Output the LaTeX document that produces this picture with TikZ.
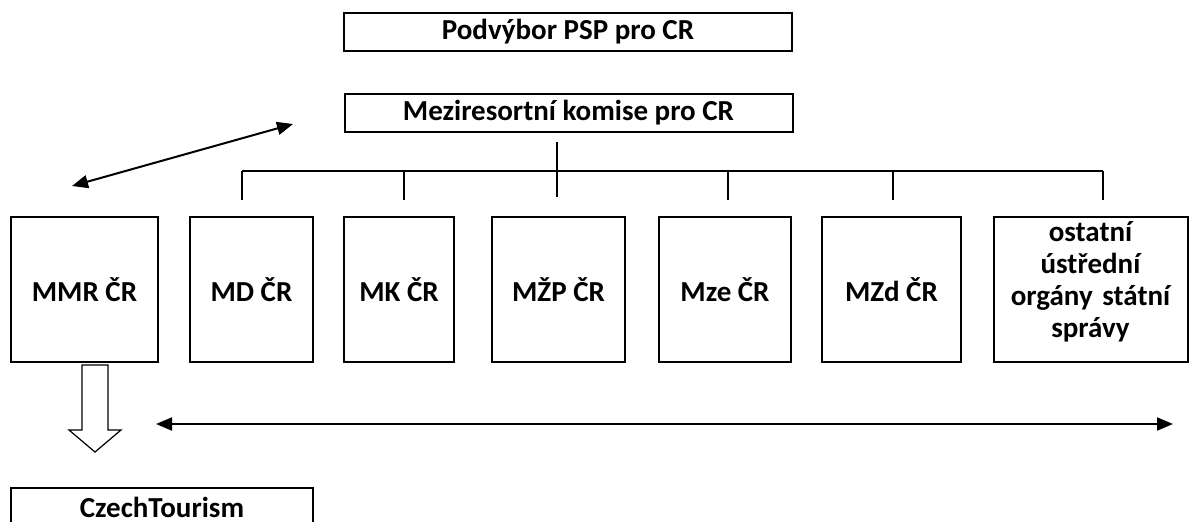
\documentclass[tikz,border=0pt]{standalone}
\usepackage{fontspec}
\setmainfont{Carlito}
\usetikzlibrary{arrows.meta}
\begin{document}
\begin{tikzpicture}[x=0.5pt,y=-0.5pt,
  txt/.style={inner sep=0pt,align=center,font=\fontsize{14.5}{16}\selectfont\bfseries},
  box/.style={txt,draw,line width=1pt},
  bus/.style={line width=0.75pt},
  dbl/.style={line width=1pt,{Triangle[length=8pt,width=6.5pt]}-{Triangle[length=8pt,width=6.5pt]}},
  hollow/.style={line width=0.6pt,fill=white}]
\useasboundingbox (0,0) rectangle (1196,521);
% top boxes
\node[box,minimum width=224pt,minimum height=19pt] (pod) at (568,32) {Podvýbor PSP pro CR};
\node[box,minimum width=224pt,minimum height=19pt] (mez) at (568.5,113) {Meziresortní komise pro CR};
% ministries
\node[box,minimum width=73.5pt,minimum height=72.5pt] (mmr) at (84.5,289.5) {MMR ČR};
\node[box,minimum width=61.5pt,minimum height=72.5pt] (md) at (251.5,289.5) {MD ČR};
\node[box,minimum width=55pt,minimum height=72.5pt] (mk) at (399,289.5) {MK ČR};
\node[box,minimum width=66.5pt,minimum height=72.5pt] (mzp) at (558.5,289.5) {MŽP ČR};
\node[box,minimum width=66pt,minimum height=72.5pt] (mze) at (725,289.5) {Mze ČR};
\node[box,minimum width=69.5pt,minimum height=72.5pt] (mzd) at (891.5,289.5) {MZd ČR};
\node[box,minimum width=97pt,minimum height=72.5pt] (ost) at (1090.5,289.5) {};
\node[txt,text width=95pt] (ostt) at (ost.center) [yshift=4pt] {ostatní\\ústřední\\orgány státní\\správy};
\node[box,minimum width=151pt,minimum height=19pt] (czech) at (162,507) {CzechTourism};
% bus
\coordinate (ctop) at (557,142);
\coordinate (cbot) at (557,197);
\coordinate (b1) at (242,171);
\coordinate (b6) at (1103,171);
\draw[bus] (ctop) -- (cbot);
\draw[bus] (b1) -- (b6);
\foreach \x in {242,404,728,893,1103}{
  \draw[bus] (\x,171) -- (\x,200);
}
% diagonal double arrow
\coordinate (dl) at (72,186);
\coordinate (dr) at (293,124);
\draw[dbl] (dl) -- (dr);
% horizontal double arrow
\coordinate (hl) at (156,424);
\coordinate (hr) at (1173,424);
\draw[dbl] (hl) -- (hr);
% hollow arrow MMR -> CzechTourism
\draw[hollow] (82,365) -- (108,365) -- (108,430) -- (121,430) -- (95,452) -- (69,430) -- (82,430) -- cycle;
\end{tikzpicture}
\end{document}
